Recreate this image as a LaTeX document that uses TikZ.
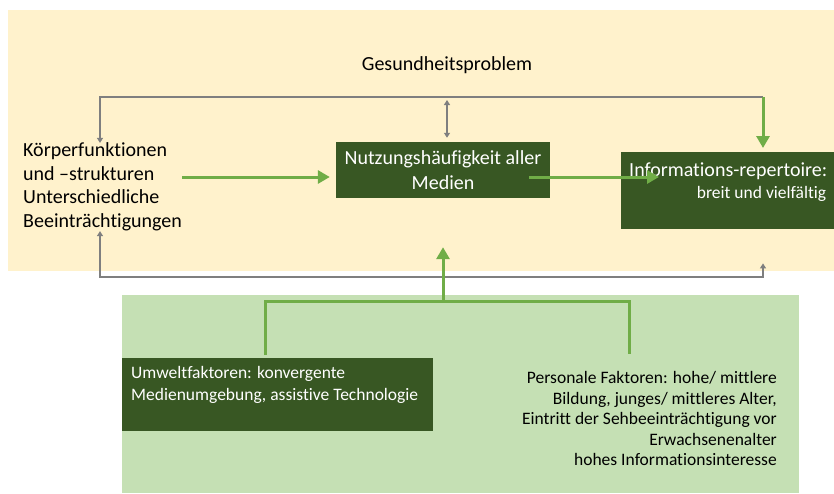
\documentclass[tikz,border=0pt]{standalone}
\usepackage{fontspec}
\setmainfont{Carlito}[Ligatures=NoCommon]
\usepackage{tikz}
\usetikzlibrary{calc,positioning}
\usetikzlibrary{arrows.meta}
\definecolor{beige}{HTML}{FFF2CC}
\definecolor{lightgreen}{HTML}{C5E0B4}
\definecolor{darkgreen}{HTML}{385723}
\definecolor{arrowgreen}{HTML}{70AD47}
\definecolor{linegray}{HTML}{7F7F7F}

\begin{document}
\begin{tikzpicture}[x=1pt,y=-1pt,
        darkbox/.style={fill=darkgreen,text=white,inner xsep=8pt,inner ysep=0pt},
        grayline/.style={draw=linegray,line width=1.6pt},
        graytip/.tip={Triangle[length=5pt,width=6pt]},
        greenline/.style={draw=arrowgreen,line width=3pt},
        greenarrow/.style={greenline,-{Triangle[length=12pt,width=13pt]}}]
        \useasboundingbox (0,0) rectangle (834,493);
        \fill[beige] (8,10) rectangle (834,271);
        \fill[lightgreen] (122,295) rectangle (799,493);

        \node[font=\fontsize{20}{24}\selectfont] (problem) at (447,65) {Gesundheitsproblem};
        \node[align=left,anchor=west,inner sep=0pt,font=\fontsize{20}{23.5}\selectfont] (koerper) at (23,187) {Körperfunktionen\\und –strukturen\\Unterschiedliche\\Beeinträchtigungen};
        \node[darkbox,minimum width=214pt,minimum height=56pt,align=center,font=\fontsize{20}{25}\selectfont] (nutzung) at (443,170) {Nutzungshäufigkeit aller\\Medien};
        \node[darkbox,anchor=north west] (info) at (621,152) {\parbox[c][77pt][t]{197pt}{\raggedleft\fontsize{20}{22}\selectfont\rule{0pt}{24.5pt}\mbox{Informations-repertoire:}\\\fontsize{17.5}{21.5}\selectfont breit und vielfältig}};
        \node[darkbox,anchor=north west,inner xsep=9pt] (umwelt) at (122,358) {\parbox[c][73pt][t]{293pt}{\raggedright\fontsize{17.5}{22}\selectfont\rule{0pt}{20.5pt}Umweltfaktoren: konvergente\\Medienumgebung, assistive Technologie}};
        \node[align=right,anchor=north east,inner sep=0pt,font=\fontsize{17.5}{20.5}\selectfont] (personal) at (777,368.5) {\rule{0pt}{15pt}Personale Faktoren: hohe/ mittlere\\Bildung, junges/ mittleres Alter,\\Eintritt der Sehbeeinträchtigung vor\\Erwachsenenalter\\hohes Informationsinteresse};

        \coordinate (topleft) at (100,97);
        \coordinate (topright) at (763,97);
        \coordinate (bottomleft) at (100,277);
        \coordinate (bottomright) at (763,277);
        \draw[grayline,-graytip] (topright) -- (topleft) -- (topleft |- koerper.north);
        \draw[grayline,graytip-graytip] ($(nutzung.north)+(4,-4)$) -- ($(nutzung.north |- topleft)+(4,3)$);
        \draw[grayline,graytip-graytip] (bottomleft |- koerper.south) -- (bottomleft) -- (bottomright) -- ($(bottomright |- info.south)+(0,34)$);
        \draw[greenarrow,shorten >=4pt] (topright) -- (topright |- info.north);

        \coordinate (leftin) at ($(nutzung.west)+(-6,7)$);
        \coordinate (rightout) at ($(nutzung.east)+(-21,7)$);
        \coordinate (rightin) at ($(info.west |- rightout)+(38,0)$);
        \draw[greenarrow] (koerper.east |- leftin) -- (leftin);
        \draw[greenarrow] (rightout) -- (rightin);

        \coordinate (junction) at (nutzung.south |- 0,301);
        \coordinate (treeleft) at (265,301);
        \coordinate (treeright) at (629,301);
        \draw[greenline] ($(treeleft |- umwelt.north)+(0,-3)$) -- (treeleft) -- (treeright) -- ($(treeright |- personal.north)+(0,-15)$);
        \draw[greenarrow] (junction) -- ($(nutzung.south)+(0,49)$);
    \end{tikzpicture}
\end{document}
